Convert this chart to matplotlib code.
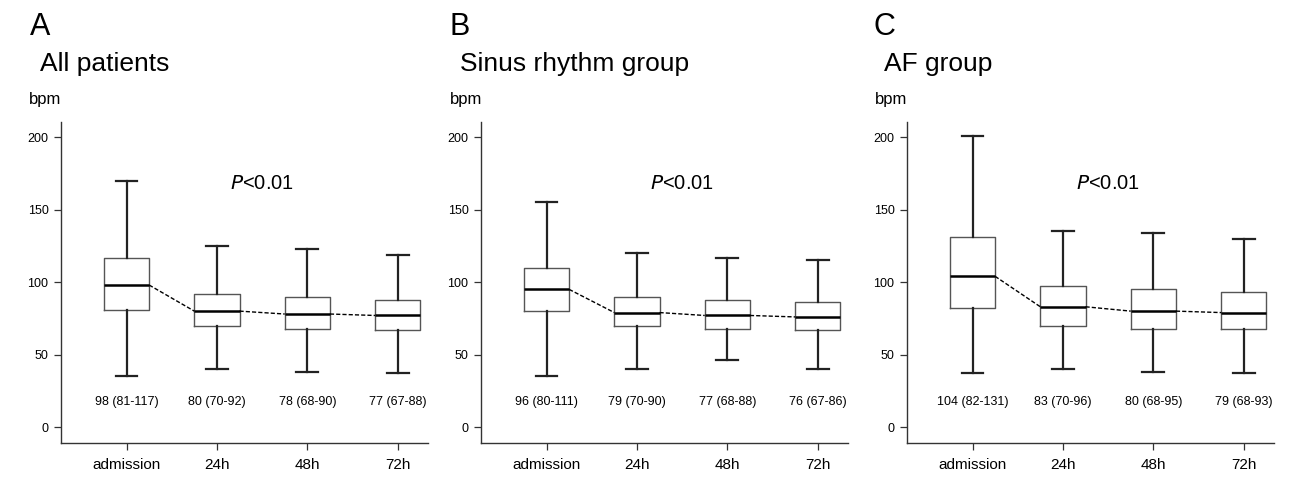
import matplotlib
matplotlib.use("Agg")
import matplotlib.pyplot as plt

plt.rcParams['font.family'] = ['Liberation Sans', 'DejaVu Sans']

categories = ['admission', '24h', '48h', '72h']
panel_letters = ['A', 'B', 'C']
panel_titles = ['All patients', 'Sinus rhythm group', 'AF group']

# per panel: whisker low, q1, median, q3, whisker high
whislo = [[35, 40, 38, 37], [35, 40, 46, 40], [37, 40, 38, 37]]
q1 = [[81, 70, 68, 67], [80, 70, 68, 67], [82, 70, 68, 68]]
med = [[98, 80, 78, 77], [95, 79, 77, 76], [104, 83, 80, 79]]
q3 = [[117, 92, 90, 88], [110, 90, 88, 86], [131, 97, 95, 93]]
whishi = [[170, 125, 123, 119], [155, 120, 117, 115], [201, 135, 134, 130]]
summary = [
    ['98 (81-117)', '80 (70-92)', '78 (68-90)', '77 (67-88)'],
    ['96 (80-111)', '79 (70-90)', '77 (68-88)', '76 (67-86)'],
    ['104 (82-131)', '83 (70-96)', '80 (68-95)', '79 (68-93)'],
]
p_text = '$\\mathit{P}$<0.01'

W, H = 1296, 487
fig = plt.figure(figsize=(W / 100, H / 100), dpi=100)

ax_left = [61, 481, 907]
letter_x = [30, 450, 873]
title_x = [40, 460, 884]
bpm_x = [29, 450, 875]

pos = [1, 2, 3, 4]
bw = 0.5

for k in range(3):
    ax = fig.add_axes([ax_left[k] / W, 1 - 443 / H, 367 / W, 321 / H])
    stats = []
    for i in range(4):
        stats.append({'whislo': whislo[k][i], 'q1': q1[k][i], 'med': med[k][i],
                      'q3': q3[k][i], 'whishi': whishi[k][i], 'fliers': []})
    ax.bxp(stats, positions=pos, widths=bw, showfliers=False,
           boxprops=dict(color='#555555', linewidth=1.0),
           medianprops=dict(color='black', linewidth=1.8),
           whiskerprops=dict(color='#222222', linewidth=1.6),
           capprops=dict(color='#222222', linewidth=1.6),
           capwidths=0.24)
    # dashed line joining medians between boxes
    for i in range(3):
        ax.plot([pos[i] + bw / 2, pos[i + 1] - bw / 2], [med[k][i], med[k][i + 1]],
                color='black', linestyle=(0, (3, 1.5)), linewidth=1.0)
    for i in range(4):
        ax.text(pos[i], 17, summary[k][i], ha='center', va='center', fontsize=9)
    ax.text(2.5, 168, p_text, ha='center', va='center', fontsize=14.5)

    ax.set_xlim(0.275, 4.335)
    ax.set_ylim(-11, 210.5)
    ax.set_yticks([0, 50, 100, 150, 200])
    ax.set_xticks(pos)
    ax.set_xticklabels(categories, fontsize=11)
    ax.tick_params(axis='y', labelsize=9, length=5, width=0.9, color='#333333', pad=4)
    ax.tick_params(axis='x', length=5, width=0.9, color='#333333', pad=6)
    for s in ['top', 'right']:
        ax.spines[s].set_visible(False)
    for s in ['left', 'bottom']:
        ax.spines[s].set_linewidth(1.0)
        ax.spines[s].set_color('#333333')

    fig.text(letter_x[k] / W, 1 - 35 / H, panel_letters[k], fontsize=22, va='baseline')
    fig.text(title_x[k] / W, 1 - 71.5 / H, panel_titles[k], fontsize=19, va='baseline')
    fig.text(bpm_x[k] / W, 1 - 104 / H, 'bpm', fontsize=12, va='baseline')

fig.savefig('out.png', dpi=100)
